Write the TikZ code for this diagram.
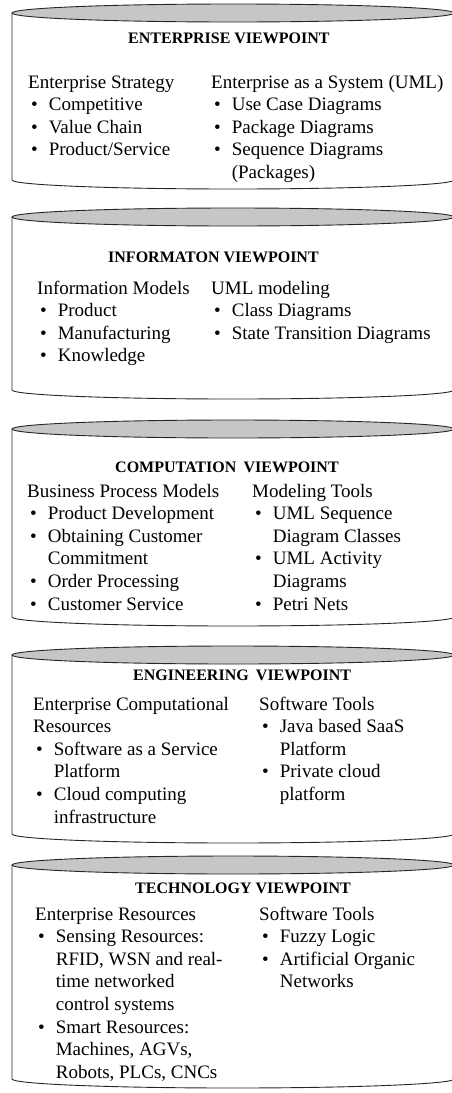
\documentclass[tikz,border=0pt]{standalone}
\usepackage{fontspec}
\setmainfont{Liberation Serif}
\tikzset{
    cylline/.style={draw=black!85, line width=.9pt},
    cyltop/.style={cylline, fill=gray!45},
    vtitle/.style={anchor=base west, inner sep=0pt,
        font=\bfseries\fontsize{16}{19}\selectfont},
    vcol/.style={anchor=base west, inner sep=0pt,
        font=\fontsize{19}{22.6}\selectfont}
}
% list with a heading line and bullets
\newenvironment{vlist}[1]{\begin{tabular}[t]{@{\hspace{3pt}}l@{\hspace{11pt}}l@{}}
    \multicolumn{2}{@{}l@{}}{#1}\\}{\end{tabular}}
% one cylinder: top y, bottom y
\newcommand{\viewcyl}[2]{
    \draw[cylline] (12,#1) -- (12,#2)
        arc[start angle=180, end angle=0, x radius=221, y radius=9] -- (454,#1);
    \draw[cyltop] (233,#1) ellipse[x radius=221, y radius=9];
}

\begin{document}
\begin{tikzpicture}[x=1pt, y=-1pt]
    \useasboundingbox (0,0) rectangle (451,1093);
    % cylinders
    \viewcyl{13}{180}
    \viewcyl{217}{390}
    \viewcyl{429}{617}
    \viewcyl{655}{834}
    \viewcyl{865}{1079}
    % enterprise
    \node[vtitle] (ent) at (128,43) {ENTERPRISE VIEWPOINT};
    \node[vcol] (ent-strat) at (28,88) {\begin{vlist}{Enterprise Strategy}
        \textbullet & Competitive\\
        \textbullet & Value Chain\\
        \textbullet & Product/Service
        \end{vlist}};
    \node[vcol] (ent-sys) at (211,88) {\begin{vlist}{Enterprise as a System (UML)}
        \textbullet & Use Case Diagrams\\
        \textbullet & Package Diagrams\\
        \textbullet & Sequence Diagrams\\
                    & (Packages)
        \end{vlist}};
    % information
    \node[vtitle] (inf) at (108,262) {INFORMATON VIEWPOINT};
    \node[vcol] (inf-models) at (37,294) {\begin{vlist}{Information Models}
        \textbullet & Product\\
        \textbullet & Manufacturing\\
        \textbullet & Knowledge
        \end{vlist}};
    \node[vcol] (inf-uml) at (211,294) {\begin{vlist}{UML modeling}
        \textbullet & Class Diagrams\\
        \textbullet & State Transition Diagrams
        \end{vlist}};
    % computation
    \node[vtitle] (comp) at (115,472) {COMPUTATION\hspace{.45em}VIEWPOINT};
    \node[vcol] (comp-proc) at (27,497) {\begin{vlist}{Business Process Models}
        \textbullet & Product Development\\
        \textbullet & Obtaining Customer\\
                    & Commitment\\
        \textbullet & Order Processing\\
        \textbullet & Customer Service
        \end{vlist}};
    \node[vcol] (comp-tools) at (252,497) {\begin{vlist}{Modeling Tools}
        \textbullet & UML Sequence\\
                    & Diagram Classes\\
        \textbullet & UML Activity\\
                    & Diagrams\\
        \textbullet & Petri Nets
        \end{vlist}};
    % engineering
    \node[vtitle] (eng) at (133,680) {ENGINEERING\hspace{.45em}VIEWPOINT};
    \node[vcol] (eng-res) at (33,710) {\begin{vlist}{Enterprise Computational}
        \multicolumn{2}{@{}l@{}}{Resources}\\
        \textbullet & Software as a Service\\
                    & Platform\\
        \textbullet & Cloud computing\\
                    & infrastructure
        \end{vlist}};
    \node[vcol] (eng-tools) at (259,710) {\begin{vlist}{Software Tools}
        \textbullet & Java based SaaS\\
                    & Platform\\
        \textbullet & Private cloud\\
                    & platform
        \end{vlist}};
    % technology
    \node[vtitle] (tech) at (135,893) {TECHNOLOGY VIEWPOINT};
    \node[vcol] (tech-res) at (35,920) {\begin{vlist}{Enterprise Resources}
        \textbullet & Sensing Resources:\\
                    & RFID, WSN and real-\\
                    & time networked\\
                    & control systems\\
        \textbullet & Smart Resources:\\
                    & Machines, AGVs,\\
                    & Robots, PLCs, CNCs
        \end{vlist}};
    \node[vcol] (tech-tools) at (259,920) {\begin{vlist}{Software Tools}
        \textbullet & Fuzzy Logic\\
        \textbullet & Artificial Organic\\
                    & Networks
        \end{vlist}};
\end{tikzpicture}
\end{document}
